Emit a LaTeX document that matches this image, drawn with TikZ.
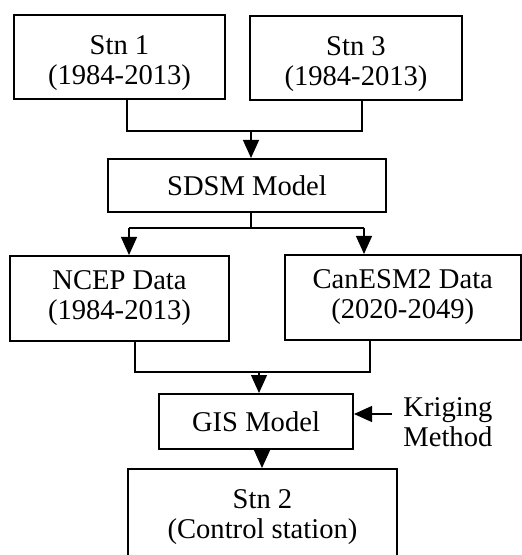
\documentclass[tikz,border=0pt]{standalone}
\usepackage{fontspec}
\setmainfont{Liberation Serif}
\usetikzlibrary{arrows.meta}
\newcommand{\topgap}[1]{\rule{0pt}{#1}}
\begin{document}
\begin{tikzpicture}
[
    x=0.5pt, y=-0.5pt,
    every node/.style={font=\fontsize{14.3}{15}\selectfont, align=center},
    box/.style={draw, line width=1pt, inner sep=0pt},
    link/.style={line width=0.6pt},
    flow/.style={line width=0.6pt, -{Triangle[width=8pt,length=9pt]}},
]
\useasboundingbox (0,0) rectangle (522,555);
\node[box, minimum width=105.5pt, minimum height=42pt] (stnA) at (119.5,57) {\topgap{16pt}Stn 1\\(1984-2013)};
\node[box, minimum width=106pt, minimum height=42pt] (stnC) at (356,58) {\topgap{16pt}Stn 3\\(1984-2013)};
\node[box, minimum width=139pt, minimum height=26.5pt] (sdsm) at (247,185.5) {SDSM Model};
\node[box, minimum width=109.5pt, minimum height=42.5pt] (ncep) at (119.5,298.5) {NCEP Data\\(1984-2013)};
\node[box, minimum width=117.75pt, minimum height=42.5pt] (canesm) at (402.75,297.5) {CanESM2 Data\\(2020-2049)};
\node[box, minimum width=97pt, minimum height=27.5pt] (gis) at (256,421.5) {GIS Model};
\node[box, minimum width=134.5pt, minimum height=44pt] (stnB) at (262.5,513) {\topgap{14pt}Stn 2\\(Control station)};
\node[inner sep=0pt, anchor=west, align=left] (krig) at (403,422) {Kriging\\Method};
\coordinate (j1) at (251,131);
\coordinate (j2) at (251,228);
\coordinate (j2l) at (129,228);
\coordinate (j2r) at (364,228);
\coordinate (j3) at (259,372);
\coordinate (kin) at (392,414);
\draw[link] ([xshift=3.75pt]stnA.south) |- (j1) -| ([xshift=3pt]stnC.south);
\draw[flow] (j1) -- (j1 |- sdsm.north);
\draw[link] (sdsm.south -| j2) -- (j2);
\draw[link] (j2l) -- (j2r);
\draw[flow] (j2l) -- (j2l |- ncep.north);
\draw[flow] (j2r) -- (j2r |- canesm.north);
\draw[link] ([xshift=7.75pt]ncep.south) |- (j3) -| ([xshift=-16.375pt]canesm.south);
\draw[flow] (j3) -- (j3 |- gis.north);
\draw[flow] ([xshift=3pt]gis.south) -- ([xshift=3pt]gis.south |- stnB.north);
\draw[flow] (kin) -- (kin -| gis.east);
\end{tikzpicture}
\end{document}
